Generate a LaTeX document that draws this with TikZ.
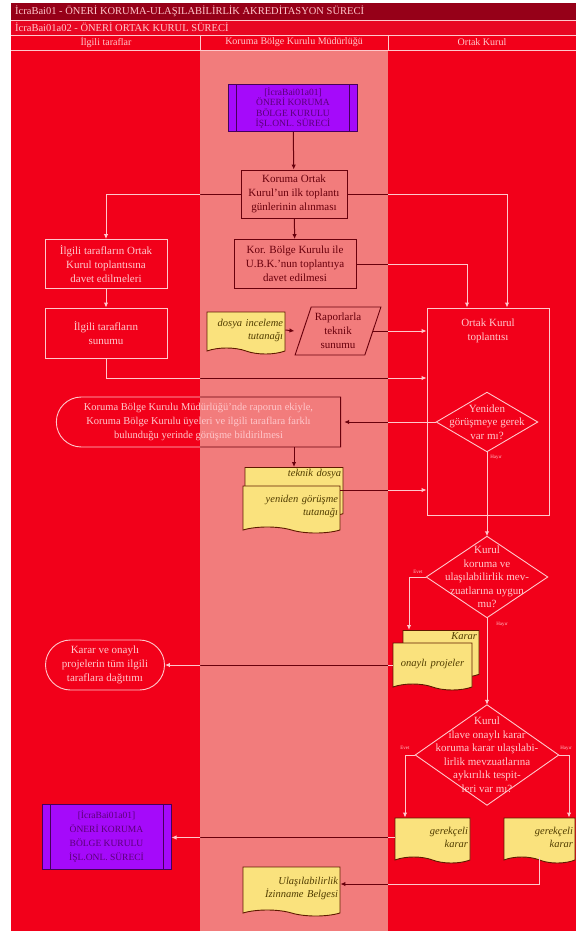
\documentclass[tikz,border=0pt]{standalone}
\usepackage{fontspec}
\setmainfont{Liberation Serif}
\usetikzlibrary{shapes.geometric,shapes.misc,shapes.symbols,arrows.meta}

\definecolor{lanered}{RGB}{242,0,26}
\definecolor{lanepink}{RGB}{242,124,124}
\definecolor{headdark}{RGB}{150,0,24}
\definecolor{headred}{RGB}{232,6,34}
\definecolor{inkdark}{RGB}{105,0,12}
\definecolor{inklight}{RGB}{255,200,204}
\definecolor{docfill}{RGB}{250,226,125}
\definecolor{docline}{RGB}{95,25,0}
\definecolor{doctext}{RGB}{80,60,0}
\definecolor{subfill}{RGB}{165,10,250}
\definecolor{subline}{RGB}{70,0,90}
\definecolor{subtext}{RGB}{90,0,120}
\colorlet{inkc}{inkdark}

\tikzset{
  txt/.style={font=\fontsize{11}{14}\selectfont, align=center, inner sep=1pt},
  onred/.style={txt, draw=inklight, text=inklight, line width=0.9pt},
  onpink/.style={txt, draw=inkdark, text=inkdark, line width=0.9pt},
  procbox/.style={rectangle, minimum width=122pt, minimum height=49pt},
  subproc/.style={rectangle, draw=subline, fill=subfill, text=subtext, line width=1pt,
    font=\fontsize{9.5}{10.5}\selectfont, align=center, minimum width=129pt, inner sep=1pt,
    path picture={\draw[subline, line width=0.8pt]
      ([xshift=8pt]path picture bounding box.north west) -- ([xshift=8pt]path picture bounding box.south west)
      ([xshift=-8pt]path picture bounding box.north east) -- ([xshift=-8pt]path picture bounding box.south east);}},
  docshape/.style={tape, tape bend top=none, tape bend bottom=out and in, tape bend height=6pt,
    draw=docline, fill=docfill, text=doctext, line width=0.9pt,
    font=\fontsize{10.5}{13}\selectfont\itshape, align=right, inner sep=2pt},
  choice/.style={txt, font=\fontsize{11}{13.5}\selectfont, text=inklight, rectangle, inner sep=0pt},
  choiceline/.style={draw=inklight, line width=0.9pt},
  tag/.style={font=\fontsize{5}{6}\selectfont, text=inklight, inner sep=0pt},
  link/.style={draw=inkc, line width=1pt, -{Latex[length=5pt,width=4.5pt]}},
  notifyline/.style={rounded rectangle, rounded rectangle east arc=none, draw=inkc, line width=0.9pt,
    minimum width=291pt, minimum height=50pt},
  headtext/.style={font=\fontsize{10.5}{12}\selectfont, text=inklight, inner sep=0pt},
  lanetext/.style={font=\fontsize{10}{12}\selectfont, text=inklight, inner sep=0pt},
}

\newcommand{\flowlines}{%
  \draw[link] (start) -- (first);
  \draw[link] (first.west) -| (invite.north);
  \draw[link] (invite) -- (present);
  \draw[link] (present.south) |- ([yshift=33.5pt]meeting.west);
  \draw[link] (first) -- (callkbk);
  \draw[link] (first.east) -| ([xshift=19pt]meeting.north);
  \draw[link] (callkbk.east) -| ([xshift=-21pt]meeting.north);
  \draw[link] (dosya.east) -- (report.west -| report.bottom left corner);
  \draw[link] (report.east) -- (report.east -| meeting.west);
  \draw[link] (again.west) -- (notify.east);
  \node[notifyline] at (notify) {};
  \draw[link] (techfile.north |- notify.south) -- (techfile.north);
  \draw[link] ([yshift=16.5pt]techminutes.east) -- ([yshift=16.5pt]techminutes.east -| meeting.west);
  \draw[link] (again.south) -- (legal.north);
  \draw[link] (legal.west) -| ([xshift=-32pt]verdict.north);
  \draw[link] (projects.west |- spread.east) -- (spread.east);
  \draw[link] (legal.south) -- (amend.north);
  \draw[link] (amend.west) -| ([xshift=-27.5pt]reasonL.north);
  \draw[link] (amend.east) -| ([xshift=29.5pt]reasonR.north);
  \draw[link] (reasonL.west) -- (reasonL.west -| sub2.east);
  \draw[link] (reasonR.south) |- ([yshift=4.5pt]permit.east);
}

\begin{document}
\begin{tikzpicture}[x=1pt,y=-1pt]
  \useasboundingbox (0,0) rectangle (576,934);
  \fill[white] (0,0) rectangle (576,934);
  \fill[headdark] (11,3) rectangle (576,20);
  \fill[headred] (11,20) rectangle (576,35);
  \fill[lanered] (11,35) rectangle (576,931);
  \fill[lanepink] (200,50) rectangle (388,931);
  \draw[inklight, line width=0.5pt] (11,20) -- (576,20) (11,35) -- (576,35) (11,50) -- (576,50)
    (200,35) -- (200,50) (388,35) -- (388,50);

  \node[headtext, anchor=west] at (15,11.5) (title) {İcraBai01 - ÖNERİ KORUMA-ULAŞILABİLİRLİK AKREDİTASYON SÜRECİ};
  \node[headtext, anchor=west] at (15,27.5) (subtitle) {İcraBai01a02 - ÖNERİ ORTAK KURUL SÜRECİ};
  \node[lanetext] at (106,42.5) (laneA) {İlgili taraflar};
  \node[lanetext] at (294,42.5) (laneB) {Koruma Bölge Kurulu Müdürlüğü};
  \node[lanetext] at (482,42.5) (laneC) {Ortak Kurul};

  \node[subproc, minimum height=47pt] at (293,108) (start) {[İcraBai01a01]\\ÖNERİ KORUMA\\BÖLGE KURULU\\İŞL.ONL. SÜRECİ};
  \node[onpink, minimum width=106pt, minimum height=48pt] at (294,194) (first) {Koruma Ortak\\Kurul'un ilk toplantı\\günlerinin alınması};
  \node[onred, procbox] at (106,264) (invite) {İlgili tarafların Ortak\\Kurul toplantısına\\davet edilmeleri};
  \node[onred, procbox, minimum height=50pt] at (106,333) (present) {İlgili tarafların\\sunumu};
  \node[onpink, procbox] at (295,264) (callkbk) {Kor. Bölge Kurulu ile\\U.B.K.'nun toplantıya\\davet edilmesi};
  \node[docshape, text width=74pt, minimum height=42pt] at (246,330) (dosya) {dosya inceleme\\tutanağı};
  \node[onpink, trapezium, trapezium left angle=69, trapezium right angle=111, trapezium stretches=true,
    minimum width=86pt, minimum height=48pt] at (338,331) (report) {Raporlarla\\teknik\\sunumu};
  \node[onred, minimum width=122pt, minimum height=207pt,
    label={[anchor=north, yshift=-10pt, txt, text=inklight]north:{Ortak Kurul\\toplantısı}}] at (488,411.5) (meeting) {};
  \node[choice, minimum width=101pt, minimum height=59pt] at (487,422) (again) {Yeniden\\görüşmeye gerek\\var mı?};
  \node[txt, font=\fontsize{10.5}{14}\selectfont, text=inklight, minimum width=291pt, minimum height=50pt] at (198.5,422) (notify)
    {Koruma Bölge Kurulu Müdürlüğü'nde raporun ekiyle,\\Koruma Bölge Kurulu üyeleri ve ilgili taraflara farklı\\bulunduğu yerinde görüşme bildirilmesi};
  \node[docshape, anchor=north, text width=94pt, text depth=32pt] at (294,467) (techfile) {teknik dosya};
  \node[docshape, text width=93pt, minimum height=47pt] at (291.5,506.5) (techminutes) {yeniden görüşme\\tutanağı};
  \node[choice, minimum width=121pt, minimum height=81pt] at (487,577) (legal)
    {Kurul\\koruma ve\\ulaşılabilirlik mev-\\zuatlarına uygun\\mu?};
  \node[docshape, anchor=north, text width=72pt, text depth=30pt] at (441,630) (verdict) {Karar};
  \node[docshape, align=center, text width=75pt, minimum height=47pt] at (432.5,663.5) (projects) {onaylı projeler};
  \node[onred, rounded rectangle, minimum width=121pt, minimum height=50pt] at (105,665) (spread)
    {Karar ve onaylı\\projelerin tüm ilgili\\taraflara dağıtımı};
  \node[choice, minimum width=143pt, minimum height=100pt] at (487,755) (amend)
    {Kurul\\ilave onaylı karar\\koruma karar ulaşılabi-\\lirlik mevzuatlarına\\aykırılık tespit-\\leri var mı?};
  \node[docshape, text width=71pt, minimum height=45pt] at (432.5,837.5) (reasonL) {gerekçeli\\karar};
  \node[docshape, text width=67pt, minimum height=45pt] at (539.5,837.5) (reasonR) {gerekçeli\\karar};
  \node[subproc, font=\fontsize{9.5}{14}\selectfont, minimum height=65pt] at (106.5,836.5) (sub2) {[İcraBai01a01]\\ÖNERİ KORUMA\\BÖLGE KURULU\\İŞL.ONL. SÜRECİ};
  \node[docshape, text width=93pt, minimum height=49pt] at (291.5,888.5) (permit) {Ulaşılabilirlik\\İzinname Belgesi};

  \draw[choiceline] (again.north) -- (again.east) -- (again.south) -- (again.west) -- cycle;
  \draw[choiceline] (legal.north) -- (legal.east) -- (legal.south) -- (legal.west) -- cycle;
  \draw[choiceline] (amend.north) -- (amend.east) -- (amend.south) -- (amend.west) -- cycle;

  \node[tag] at (496,457) (no1) {Hayır};
  \node[tag] at (418,572) (yes2) {Evet};
  \node[tag] at (502,624) (no2) {Hayır};
  \node[tag] at (405,748) (yes3) {Evet};
  \node[tag] at (566,748) (no3) {Hayır};

  \begin{scope}
    \clip (200,50) rectangle (388,931);
    \colorlet{inkc}{inkdark}
    \flowlines
  \end{scope}
  \begin{scope}
    \clip (11,50) rectangle (200,931) (388,50) rectangle (576,931);
    \colorlet{inkc}{inklight}
    \flowlines
  \end{scope}
\end{tikzpicture}
\end{document}
